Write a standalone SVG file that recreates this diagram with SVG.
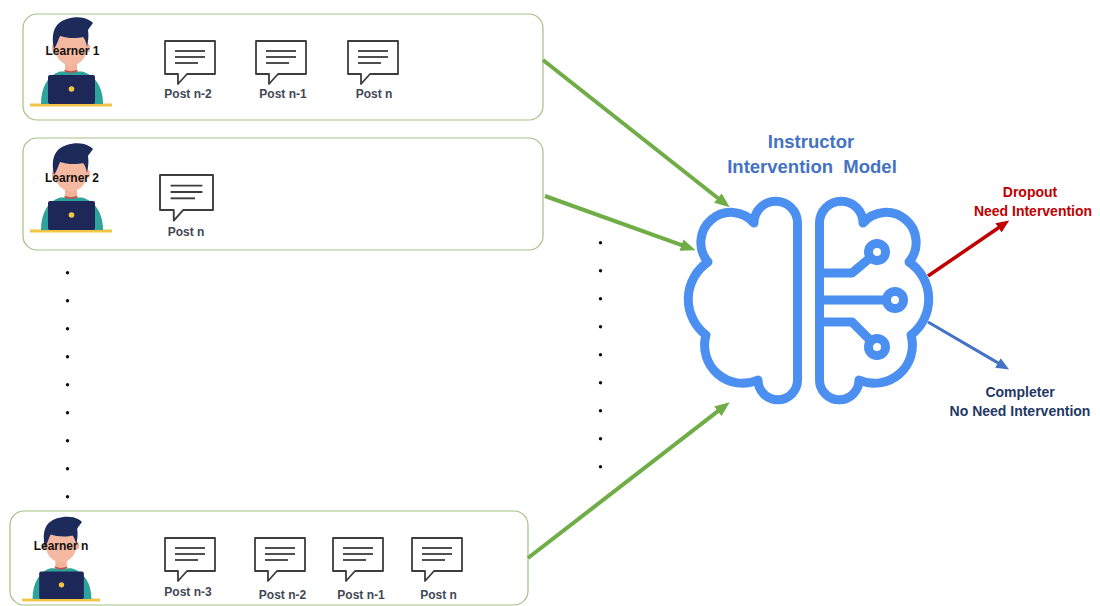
<svg xmlns="http://www.w3.org/2000/svg" width="1100" height="606" viewBox="0 0 1100 606">
  <style>
    .box{fill:#fff;stroke:#a3c184;stroke-width:1.2}
    .txt{font-family:"Liberation Sans",Arial,sans-serif;font-weight:bold;text-anchor:middle}
    .lbl{font-size:12px;fill:#111}
    .post{font-size:12px;fill:#3f4856}
    .title{font-size:18.5px;fill:#4472c4}
    .out{font-size:14px}
    .bub{fill:#fff;stroke:#3d3d3d;stroke-width:1.8;stroke-linejoin:round}
    .bubl{stroke:#3d3d3d;stroke-width:1.8;stroke-linecap:butt}
    .dot{fill:#111}
    .green{stroke:#70ad47;stroke-width:4;fill:none}
    .brain{fill:none;stroke:#4b8ff0;stroke-width:9;stroke-linecap:round;stroke-linejoin:round}
  </style>
  <defs>
    <marker id="headG" viewBox="0 0 15 12" refX="1" refY="6" markerWidth="15" markerHeight="12" markerUnits="userSpaceOnUse" orient="auto">
      <path d="M0,0 L15,6 L0,12 Z" fill="#70ad47"/>
    </marker>
    <marker id="headR" viewBox="0 0 13 11" refX="1" refY="5.5" markerWidth="13" markerHeight="11" markerUnits="userSpaceOnUse" orient="auto">
      <path d="M0,0 L13,5.5 L0,11 Z" fill="#c00000"/>
    </marker>
    <marker id="headB" viewBox="0 0 13 11" refX="1" refY="5.5" markerWidth="13" markerHeight="11" markerUnits="userSpaceOnUse" orient="auto">
      <path d="M0,0 L13,5.5 L0,11 Z" fill="#4472c4"/>
    </marker>
    <!-- learner figure at a laptop -->
    <g id="avatar">
      <rect x="30" y="103.5" width="82" height="3" fill="#f4c445"/>
      <path d="M41 104 C41 87 48 75 60 71.5 L82 71.5 C95 75 103 87 103 104 Z" fill="#2da39b"/>
      <rect x="65" y="58" width="12" height="14" fill="#f2b29a"/>
      <path d="M64.5 70.5 Q71 73.5 77.5 70.5" fill="none" stroke="#c0504d" stroke-width="1.6"/>
      <ellipse cx="55" cy="48" rx="3.2" ry="4.2" fill="#f2b29a"/>
      <ellipse cx="87" cy="48" rx="3.2" ry="4.2" fill="#f2b29a"/>
      <ellipse cx="71" cy="46" rx="16.5" ry="19.5" fill="#f5b8a0"/>
      <path d="M54 49 C52 40 52 30 58 24 C64 18 76 16 84 18 C88 19 91 21 93 23 C91 26 89 28 88 30 C89 36 88 42 87 47 C86 42 85 39 83 37 C76 39 66 38 60 36 C58 40 57 45 54 49 Z" fill="#1d2b5b"/>
      <rect x="48" y="75" width="47" height="29" rx="2" fill="#1d2858"/>
      <circle cx="71.5" cy="89" r="2.8" fill="#f4c445"/>
    </g>
    <!-- speech bubble icon -->
    <g id="bubble">
      <path class="bub" d="M0 0 H50 V33 H22 L13 43 V33 H0 Z"/>
      <line class="bubl" x1="10" y1="10" x2="40" y2="10"/>
      <line class="bubl" x1="10" y1="16" x2="40" y2="16"/>
      <line class="bubl" x1="10" y1="22" x2="33" y2="22"/>
    </g>
    <!-- left hemisphere outline -->
    <path id="hemi" d="M797.5 380 V223 A21.75 21.75 0 0 0 754 223 A30 30 0 0 0 708 262 A45 45 0 0 0 706 335 A38 38 0 0 0 758 380 A19.75 19.75 0 0 0 797.5 380 Z"/>
  </defs>

  <rect width="1100" height="606" fill="#fff"/>

  <g id="learner1">
    <rect class="box" x="23" y="14" width="520" height="106" rx="14"/>
    <use href="#avatar"/>
    <text class="txt lbl" x="72.5" y="55">Learner 1</text>
    <use href="#bubble" transform="translate(165,41)"/>
    <use href="#bubble" transform="translate(256,41)"/>
    <use href="#bubble" transform="translate(348,41)"/>
    <text class="txt post" x="188" y="98">Post n-2</text>
    <text class="txt post" x="283" y="98">Post n-1</text>
    <text class="txt post" x="374" y="98">Post n</text>
  </g>

  <g id="learner2">
    <rect class="box" x="23" y="138" width="520" height="112" rx="14"/>
    <use href="#avatar" transform="translate(0,126)"/>
    <text class="txt lbl" x="72" y="182">Learner 2</text>
    <use href="#bubble" transform="translate(160,175) scale(1.06)"/>
    <text class="txt post" x="186" y="236">Post n</text>
  </g>

  <g id="learnerN">
    <rect class="box" x="10" y="511" width="518" height="94" rx="14"/>
    <use href="#avatar" transform="translate(-6.4,500.25) scale(0.95)"/>
    <text class="txt lbl" x="61" y="550">Learner n</text>
    <use href="#bubble" transform="translate(165,538)"/>
    <use href="#bubble" transform="translate(255,538)"/>
    <use href="#bubble" transform="translate(333,538)"/>
    <use href="#bubble" transform="translate(412,538)"/>
    <text class="txt post" x="188" y="596">Post n-3</text>
    <text class="txt post" x="282.5" y="599">Post n-2</text>
    <text class="txt post" x="361" y="599">Post n-1</text>
    <text class="txt post" x="438.5" y="599">Post n</text>
  </g>

  <g id="ellipsis-left">
    <circle class="dot" cx="67.5" cy="272.7" r="1.7"/>
    <circle class="dot" cx="67.5" cy="300.7" r="1.7"/>
    <circle class="dot" cx="67.5" cy="328.7" r="1.7"/>
    <circle class="dot" cx="67.5" cy="356.7" r="1.7"/>
    <circle class="dot" cx="67.5" cy="384.7" r="1.7"/>
    <circle class="dot" cx="67.5" cy="412.7" r="1.7"/>
    <circle class="dot" cx="67.5" cy="440.7" r="1.7"/>
    <circle class="dot" cx="67.5" cy="468.7" r="1.7"/>
    <circle class="dot" cx="67.5" cy="496.7" r="1.7"/>
  </g>
  <g id="ellipsis-right">
    <circle class="dot" cx="600.5" cy="242.7" r="1.7"/>
    <circle class="dot" cx="600.5" cy="270.7" r="1.7"/>
    <circle class="dot" cx="600.5" cy="298.7" r="1.7"/>
    <circle class="dot" cx="600.5" cy="326.7" r="1.7"/>
    <circle class="dot" cx="600.5" cy="354.7" r="1.7"/>
    <circle class="dot" cx="600.5" cy="382.7" r="1.7"/>
    <circle class="dot" cx="600.5" cy="410.7" r="1.7"/>
    <circle class="dot" cx="600.5" cy="438.7" r="1.7"/>
    <circle class="dot" cx="600.5" cy="466.7" r="1.7"/>
  </g>

  <g id="model">
    <text class="txt title" x="811" y="148">Instructor</text>
    <text class="txt title" x="812" y="173" style="white-space:pre">Intervention  Model</text>
    <use href="#hemi" class="brain"/>
    <use href="#hemi" class="brain" transform="translate(1617,0) scale(-1,1)"/>
    <path class="brain" d="M819.5 300 H886.5 M819.5 273 H852 L870.5 257.5 M819.5 322 H852 L871 341"/>
    <circle class="brain" cx="877" cy="252" r="8.5"/>
    <circle class="brain" cx="895" cy="300" r="8.5"/>
    <circle class="brain" cx="877" cy="347" r="8.5"/>
  </g>

  <g id="dropout">
    <text class="txt out" x="1030" y="197" fill="#c00000">Dropout</text>
    <text class="txt out" x="1033" y="216" fill="#c00000">Need Intervention</text>
  </g>
  <g id="completer">
    <text class="txt out" x="1020" y="397" fill="#1f3864">Completer</text>
    <text class="txt out" x="1020" y="416" fill="#1f3864">No Need Intervention</text>
  </g>

  <g id="connectors">
    <line class="green" x1="543" y1="60" x2="718.7" y2="198.7" marker-end="url(#headG)"/>
    <line class="green" x1="545" y1="196" x2="682.4" y2="245.4" marker-end="url(#headG)"/>
    <line class="green" x1="528" y1="558" x2="718.6" y2="410.7" marker-end="url(#headG)"/>
    <line x1="928" y1="276" x2="999.3" y2="227.3" stroke="#c00000" stroke-width="3.5" marker-end="url(#headR)"/>
    <line x1="928" y1="322" x2="998.8" y2="363.4" stroke="#4472c4" stroke-width="3" marker-end="url(#headB)"/>
  </g>
</svg>
